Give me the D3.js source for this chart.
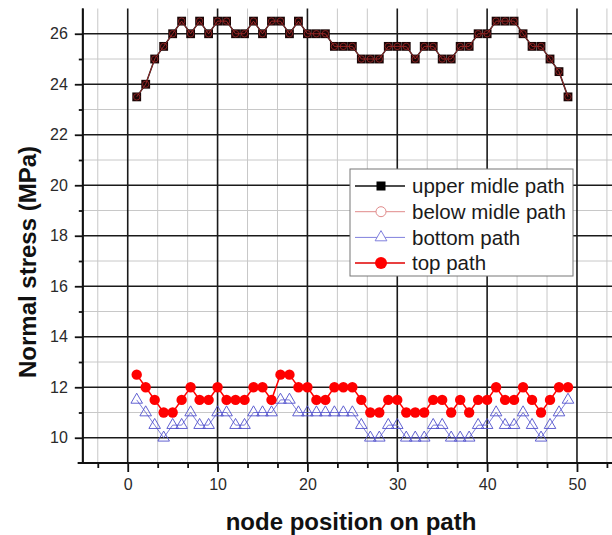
<html>
<head>
<script src="https://cdn.jsdelivr.net/npm/d3@7"></script>
<title>Normal stress along paths</title>
<style>
  body { margin: 0; background: #fff; }
  text { font-family: Arial, "Liberation Sans", sans-serif; }
</style>
</head>
<body>
<script>
// node numbers along the path
var nodes = d3.range(1, 50);

// stress values (MPa)
var upperMidle = [23.5, 24, 25, 25.5, 26, 26.5, 26, 26.5, 26, 26.5,
                  26.5, 26, 26, 26.5, 26, 26.5, 26.5, 26, 26.5, 26,
                  26, 26, 25.5, 25.5, 25.5, 25, 25, 25, 25.5, 25.5,
                  25.5, 25, 25.5, 25.5, 25, 25, 25.5, 25.5, 26, 26,
                  26.5, 26.5, 26.5, 26, 25.5, 25.5, 25, 24.5, 23.5];
// below midle path lies on top of the upper one
var belowMidle = upperMidle.slice();
var bottomPath = [11.5, 11, 10.5, 10, 10.5, 10.5, 11, 10.5, 10.5, 11,
                  11, 10.5, 10.5, 11, 11, 11, 11.5, 11.5, 11, 11,
                  11, 11, 11, 11, 11, 10.5, 10, 10, 10.5, 10.5,
                  10, 10, 10, 10.5, 10.5, 10, 10, 10, 10.5, 10.5,
                  11, 10.5, 10.5, 11, 10.5, 10, 10.5, 11, 11.5];
var topPath = [12.5, 12, 11.5, 11, 11, 11.5, 12, 11.5, 11.5, 12,
               11.5, 11.5, 11.5, 12, 12, 11.5, 12.5, 12.5, 12, 12,
               11.5, 11.5, 12, 12, 12, 11.5, 11, 11, 11.5, 11.5,
               11, 11, 11, 11.5, 11.5, 11, 11.5, 11, 11.5, 11.5,
               12, 11.5, 11.5, 12, 11.5, 11, 11.5, 12, 12];

var xTicks = [0, 10, 20, 30, 40, 50];
var yTicks = [10, 12, 14, 16, 18, 20, 22, 24, 26];
var legendNames = ["upper midle path", "below midle path", "bottom path", "top path"];

// figure size
var width = 612, height = 535;

var svg = d3.select("body").append("svg")
    .attr("width", width)
    .attr("height", height);

// scales (the frame runs off the right edge, like the original)
var x = d3.scaleLinear().domain([-5, 55]).range([82.8, 621.9]);
var y = d3.scaleLinear().domain([9, 27]).range([463, 8.5]);

var yTop = y(27), yBot = y(9), xLeft = x(-5);

// minor positions: thirds on x, odd values on y
var xMinor = d3.range(-10 / 3, 55, 10 / 3).filter(function(v) {
    return Math.abs(v / 10 - Math.round(v / 10)) > 0.01;
});
var yMinor = d3.range(11, 27, 2);

// light grid
svg.append("g").selectAll("line").data(xMinor).enter().append("line")
    .attr("x1", function(d) { return x(d); }).attr("x2", function(d) { return x(d); })
    .attr("y1", yTop).attr("y2", yBot)
    .attr("stroke", "#c8c8c8").attr("stroke-width", 1);
svg.append("g").selectAll("line").data(yMinor).enter().append("line")
    .attr("x1", xLeft).attr("x2", width)
    .attr("y1", function(d) { return y(d); }).attr("y2", function(d) { return y(d); })
    .attr("stroke", "#c8c8c8").attr("stroke-width", 1);

// dark grid
svg.append("g").selectAll("line").data(xTicks).enter().append("line")
    .attr("x1", function(d) { return x(d); }).attr("x2", function(d) { return x(d); })
    .attr("y1", yTop).attr("y2", yBot)
    .attr("stroke", "#1a1a1a").attr("stroke-width", 1.6);
svg.append("g").selectAll("line").data(yTicks).enter().append("line")
    .attr("x1", xLeft).attr("x2", width)
    .attr("y1", function(d) { return y(d); }).attr("y2", function(d) { return y(d); })
    .attr("stroke", "#1a1a1a").attr("stroke-width", 1.6);

// x axis with major and minor ticks
var xAxis = svg.append("g").attr("transform", "translate(0," + yBot + ")");
xAxis.call(d3.axisBottom(x).tickValues(xMinor).tickSize(5).tickFormat(""));
xAxis.append("g").call(d3.axisBottom(x).tickValues(xTicks).tickSize(9).tickPadding(7));
xAxis.selectAll(".domain").attr("d", "M" + (xLeft - 5) + ",0H" + width);
xAxis.selectAll("path, line").attr("stroke", "#111").attr("stroke-width", 1.8);
xAxis.selectAll("text").attr("font-size", 16).attr("fill", "#2a2a2a")
    .attr("font-family", "Arial, 'Liberation Sans', sans-serif");

// y axis with major and minor ticks
var yAxis = svg.append("g").attr("transform", "translate(" + xLeft + ",0)");
yAxis.call(d3.axisLeft(y).tickValues(yMinor).tickSize(4).tickFormat(""));
yAxis.append("g").call(d3.axisLeft(y).tickValues(yTicks).tickSize(8).tickPadding(7));
yAxis.selectAll(".domain").attr("d", "M0," + yTop + "V" + yBot);
yAxis.selectAll("path, line").attr("stroke", "#111").attr("stroke-width", 1.8);
yAxis.selectAll("text").attr("font-size", 16).attr("fill", "#2a2a2a")
    .attr("font-family", "Arial, 'Liberation Sans', sans-serif");

// axis titles
svg.append("text")
    .attr("x", 351).attr("y", 530)
    .attr("text-anchor", "middle")
    .attr("font-size", 24).attr("font-weight", "bold").attr("fill", "#111")
    .text("node position on path");
svg.append("text")
    .attr("transform", "translate(36,262) rotate(-90)")
    .attr("text-anchor", "middle")
    .attr("font-size", 24).attr("font-weight", "bold").attr("fill", "#111")
    .text("Normal stress (MPa)");

var line = d3.line()
    .x(function(d, i) { return x(nodes[i]); })
    .y(function(d) { return y(d); });

// upper midle path: black squares
svg.append("path").datum(upperMidle)
    .attr("d", line).attr("fill", "none")
    .attr("stroke", "#111").attr("stroke-width", 1.5);
svg.append("g").selectAll("path").data(upperMidle).enter().append("path")
    .attr("transform", function(d, i) { return "translate(" + x(nodes[i]) + "," + y(d) + ")"; })
    .attr("d", d3.symbol().type(d3.symbolSquare).size(78))
    .attr("fill", "#1a0606");

// below midle path: thin red line, open circles
svg.append("path").datum(belowMidle)
    .attr("d", line).attr("fill", "none")
    .attr("stroke", "#b83030").attr("stroke-width", 0.8);
svg.append("g").selectAll("circle").data(belowMidle).enter().append("circle")
    .attr("cx", function(d, i) { return x(nodes[i]); })
    .attr("cy", function(d) { return y(d); })
    .attr("r", 3.2)
    .attr("fill", "none").attr("stroke", "#a02828").attr("stroke-width", 0.8);

// bottom path: blue open triangles
svg.append("path").datum(bottomPath)
    .attr("d", line).attr("fill", "none")
    .attr("stroke", "#5a5ad0").attr("stroke-width", 0.8);
svg.append("g").selectAll("path").data(bottomPath).enter().append("path")
    .attr("transform", function(d, i) { return "translate(" + x(nodes[i]) + "," + y(d) + ")"; })
    .attr("d", d3.symbol().type(d3.symbolTriangle).size(58))
    .attr("fill", "none").attr("stroke", "#5050cc").attr("stroke-width", 0.9);

// top path: red filled circles
svg.append("path").datum(topPath)
    .attr("d", line).attr("fill", "none")
    .attr("stroke", "#f00").attr("stroke-width", 1.5);
svg.append("g").selectAll("circle").data(topPath).enter().append("circle")
    .attr("cx", function(d, i) { return x(nodes[i]); })
    .attr("cy", function(d) { return y(d); })
    .attr("r", 5.2)
    .attr("fill", "#f00");

// legend
var legend = svg.append("g").attr("transform", "translate(350,169)");
legend.append("rect")
    .attr("width", 223).attr("height", 107)
    .attr("fill", "#fff").attr("stroke", "#777").attr("stroke-width", 1);

var legendColors = ["#111", "#e08a8a", "#8080dd", "#e00000"];
var item = legend.selectAll(".item").data(legendNames).enter().append("g")
    .attr("class", "item")
    .attr("transform", function(d, i) { return "translate(0," + (17 + i * 25.7) + ")"; });
item.append("line")
    .attr("x1", 5).attr("x2", 55)
    .attr("stroke", function(d, i) { return legendColors[i]; })
    .attr("stroke-width", function(d, i) { return i == 0 || i == 3 ? 1.5 : 1; });
item.append("text")
    .attr("x", 62).attr("dy", "0.35em")
    .attr("font-size", 20.5).attr("fill", "#1a1a1a")
    .text(function(d) { return d; });

// legend markers
legend.select(".item:nth-child(2)").append("rect")
    .attr("x", 26.5).attr("y", -4.5).attr("width", 9).attr("height", 9).attr("fill", "#000");
legend.select(".item:nth-child(3)").append("circle")
    .attr("cx", 31).attr("r", 5).attr("fill", "#fff").attr("stroke", "#e08a8a");
legend.select(".item:nth-child(4)").append("path")
    .attr("transform", "translate(31,0)")
    .attr("d", d3.symbol().type(d3.symbolTriangle).size(60))
    .attr("fill", "#fff").attr("stroke", "#8080dd");
legend.select(".item:nth-child(5)").append("circle")
    .attr("cx", 31).attr("r", 6).attr("fill", "#f00");
</script>
</body>
</html>
